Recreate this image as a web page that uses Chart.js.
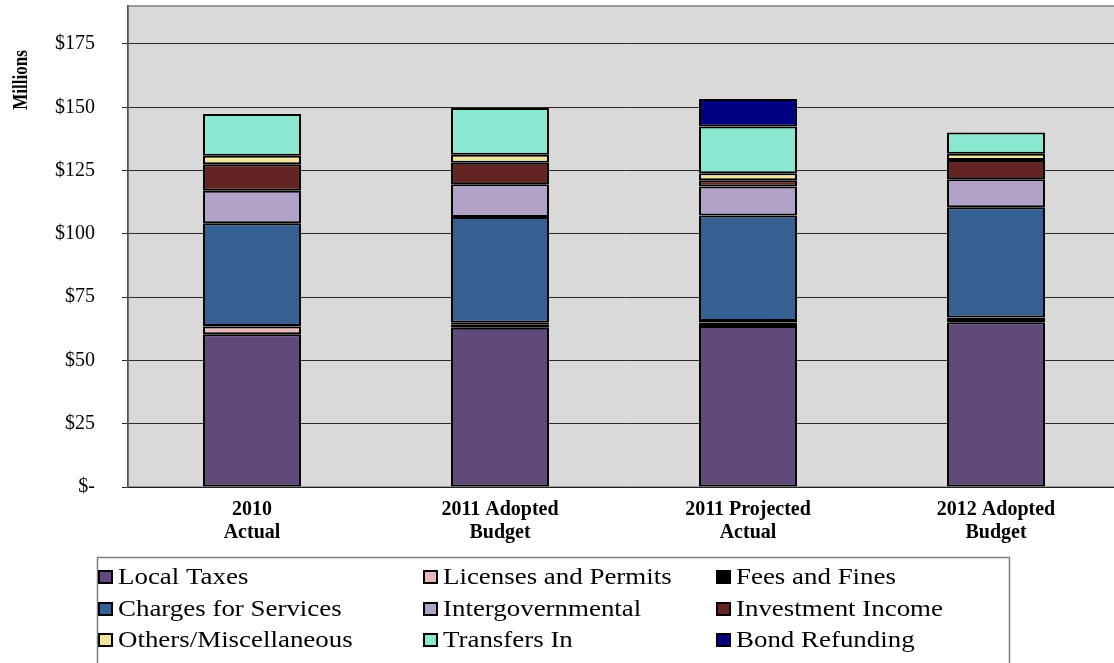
<!DOCTYPE html>
<html>
<head>
<meta charset="utf-8">
<script src="https://cdn.jsdelivr.net/npm/chart.js@4.4.1/dist/chart.umd.min.js"></script>
<style>
  html, body { margin: 0; padding: 0; background: #ffffff; overflow: hidden; }
  #wrap { width: 1114px; height: 663px; overflow: hidden; position: relative; }
  canvas { display: block; }
</style>
</head>
<body>
<div id="wrap"><canvas id="revenue" width="1122" height="663"></canvas></div>
<script>
// Revenue sources by fiscal year, in millions of dollars
const categories = [["2010", "Actual"], ["2011 Adopted", "Budget"], ["2011 Projected", "Actual"], ["2012 Adopted", "Budget"]];
const seriesNames = ["Local Taxes", "Licenses and Permits", "Fees and Fines", "Charges for Services", "Intergovernmental", "Investment Income", "Others/Miscellaneous", "Transfers In", "Bond Refunding"];
const localTaxes = [60.3, 62.9, 63.6, 65.1];
const licensesPermits = [3.1, 1.4, 1.4, 1.3];
const feesFines = [0.2, 0.6, 0.6, 0.6];
const chargesServices = [40.6, 41.8, 41.6, 43.5];
const intergovernmental = [12.8, 12.9, 11.5, 11.1];
const investmentIncome = [10.5, 8.5, 2.5, 7.6];
const othersMisc = [3.3, 3.1, 2.7, 2.4];
const transfersIn = [16.5, 18.5, 18.5, 8.4];
const bondRefunding = [null, null, 10.9, null];
const yTickValues = [0, 25, 50, 75, 100, 125, 150, 175];

const seriesValues = [localTaxes, licensesPermits, feesFines, chargesServices, intergovernmental, investmentIncome, othersMisc, transfersIn, bondRefunding];
const seriesColors = ["#604a7b", "#e6b9b8", "#000000", "#366092", "#b3a2c7", "#632523", "#eee49c", "#8ae8d0", "#000080"];

const SERIF = "'Liberation Serif', 'Times New Roman', serif";

// Grey plot-area fill and frame
const plotBackground = {
  id: "plotBackground",
  beforeDraw(chart) {
    const { ctx, chartArea: a } = chart;
    ctx.save();
    ctx.fillStyle = "#d9d9d9";
    ctx.fillRect(a.left, a.top, a.right - a.left, a.bottom - a.top);
    ctx.strokeStyle = "#808080";
    ctx.lineWidth = 1.5;
    ctx.strokeRect(a.left, a.top, a.right - a.left, a.bottom - a.top);
    ctx.restore();
  }
};

// Rotated axis caption near the top of the value axis
const axisCaption = {
  id: "axisCaption",
  afterDraw(chart) {
    const ctx = chart.ctx;
    ctx.save();
    ctx.translate(22, 80);
    ctx.scale(1.22, 1);
    ctx.rotate(-Math.PI / 2);
    ctx.font = "bold 17px " + SERIF;
    ctx.fillStyle = "#000";
    ctx.textAlign = "center";
    ctx.textBaseline = "middle";
    ctx.fillText("Millions", 0, 0);
    ctx.restore();
  }
};

// Three-column boxed legend below the category labels
const gridLegend = {
  id: "gridLegend",
  afterDraw(chart) {
    const ctx = chart.ctx;
    const colX = [98, 423, 716];
    const rowY = [577, 609, 640];
    ctx.save();
    ctx.strokeStyle = "#7f7f7f";
    ctx.lineWidth = 1.5;
    ctx.strokeRect(97.5, 557.5, 912, 120);
    ctx.font = "23px " + SERIF;
    ctx.textBaseline = "middle";
    chart.data.datasets.forEach((ds, i) => {
      const x = colX[i % 3];
      const y = rowY[Math.floor(i / 3)];
      ctx.fillStyle = ds.backgroundColor;
      ctx.fillRect(x, y - 7, 15, 14);
      ctx.strokeStyle = "#000";
      ctx.lineWidth = 2;
      ctx.strokeRect(x + 1, y - 6, 13, 12);
      ctx.save();
      ctx.translate(x + 20, y + 1);
      ctx.scale(1.17, 1);
      ctx.fillStyle = "#000";
      ctx.fillText(ds.label, 0, 0);
      ctx.restore();
    });
    ctx.restore();
  }
};

new Chart(document.getElementById("revenue"), {
  type: "bar",
  data: {
    labels: categories,
    datasets: seriesNames.map((name, i) => ({
      label: name,
      data: seriesValues[i],
      backgroundColor: seriesColors[i],
      borderColor: "#000000",
      borderWidth: 2,
      borderSkipped: false,
      barPercentage: 0.395,
      categoryPercentage: 1.0
    }))
  },
  options: {
    responsive: false,
    animation: false,
    layout: { padding: { top: 6, left: 0, right: 2, bottom: 0 } },
    plugins: {
      legend: { display: false },
      tooltip: { enabled: false }
    },
    scales: {
      x: {
        stacked: true,
        grid: { display: false, drawTicks: false },
        border: { display: true, color: "#222", width: 1 },
        ticks: {
          color: "#000",
          padding: 11,
          maxRotation: 0,
          autoSkip: false,
          font: { family: SERIF, size: 20, weight: "bold", lineHeight: 1.15 }
        },
        afterFit(scale) { scale.height = 176; }
      },
      y: {
        stacked: true,
        min: 0,
        max: 190,
        ticks: {
          stepSize: 25,
          color: "#000",
          padding: 27,
          font: { family: SERIF, size: 20 },
          callback: (v) => (v === 0 ? "$-" : "$" + v)
        },
        afterBuildTicks(scale) {
          scale.ticks = yTickValues.map((v) => ({ value: v }));
        },
        grid: { color: "#2a2a2a", lineWidth: 1, tickLength: 6, drawTicks: true },
        border: { display: true, color: "#555", width: 1.5 },
        afterFit(scale) {
          scale.width = 128;
          scale.paddingTop = 0;
          scale.paddingBottom = 0;
        }
      }
    }
  },
  plugins: [plotBackground, axisCaption, gridLegend]
});
</script>
</body>
</html>
